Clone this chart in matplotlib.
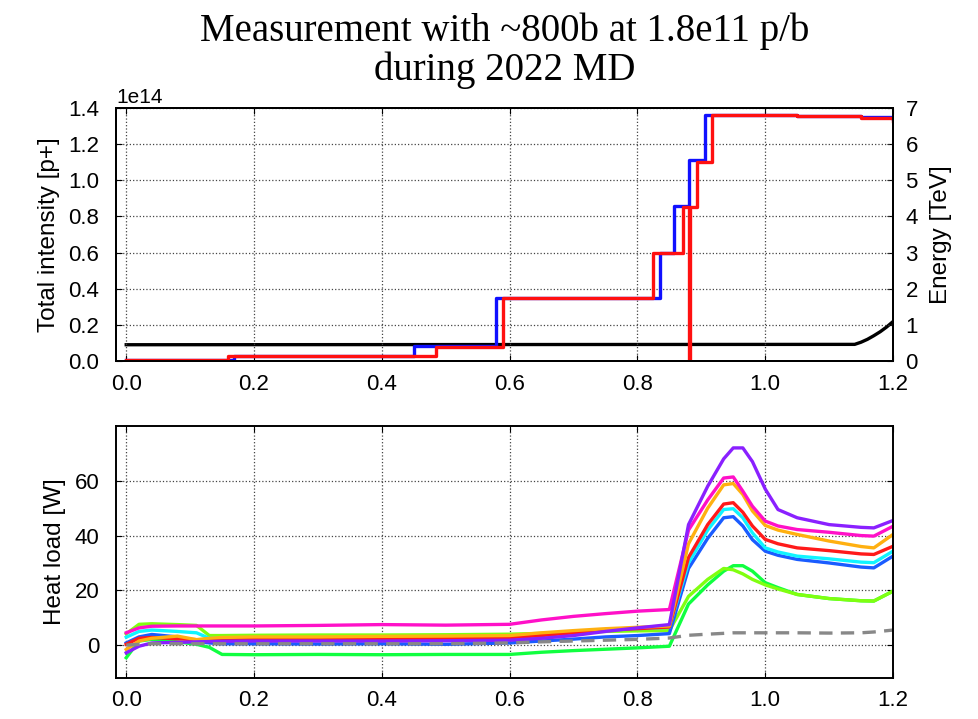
import matplotlib
matplotlib.use("Agg")
import matplotlib.pyplot as plt
import numpy as np

# ---------------- data ----------------
# Top panel: total intensity (steps) for the two beams, and energy
b1_t = [0.0, 0.168, 0.45, 0.579, 0.836, 0.858, 0.881, 0.906, 1.0, 1.05, 1.1, 1.15, 1.2]
b1_I = [0.003, 0.026, 0.083, 0.35, 0.60, 0.855, 1.11, 1.36, 1.36, 1.358, 1.355, 1.35, 1.34]
b2_t = [0.0, 0.160, 0.485, 0.590, 0.825, 0.872, 0.8805, 0.8825, 0.894, 0.917, 1.0, 1.05, 1.1, 1.15, 1.2]
b2_I = [0.003, 0.026, 0.080, 0.35, 0.60, 0.85, 0.0, 0.85, 1.10, 1.36, 1.36, 1.358, 1.355, 1.345, 1.33]
en_t = [0.0, 1.14, 1.15, 1.16, 1.17, 1.18, 1.19, 1.2]
en_E = [0.45, 0.46, 0.52, 0.60, 0.70, 0.81, 0.94, 1.09]

# Bottom panel: heat loads
hl_x = [0, 0.02, 0.04, 0.08, 0.11, 0.13, 0.15, 0.2, 0.3, 0.4, 0.5, 0.6, 0.65, 0.7, 0.75,
        0.8, 0.85, 0.88, 0.91, 0.935, 0.95, 0.965, 0.98, 1.0, 1.02, 1.05, 1.1, 1.15, 1.17, 1.2]
hl_green = [-4.6, 1.5, 2.1, 1.2, 0.3, -0.8, -3.4, -3.5, -3.4, -3.5, -3.4, -3.4, -2.6, -2.0, -1.5,
            -1.0, -0.4, 15, 22, 27, 29, 29, 27, 22.8, 21, 18.5, 17, 16.2, 16.1, 19.7]
hl_lime = [4.1, 7.6, 7.8, 7.5, 7.2, 3.5, 3.5, 3.6, 3.7, 3.7, 3.8, 4.0, 4.3, 4.6, 5.0,
           5.2, 5.3, 17.8, 24, 28, 27.5, 26, 24, 22, 20.5, 18.5, 17, 16.2, 16.1, 19.7]
hl_blue = [0.8, 3.0, 3.9, 3.0, 1.5, 0.8, 0.5, 0.5, 0.4, 0.5, 0.3, 0.8, 1.5, 2.2, 3.0,
           3.5, 4.2, 28, 39, 46.5, 46.9, 43.5, 38.5, 34.3, 32.8, 31.3, 30, 28.5, 28.2, 32.5]
hl_cyan = [2.9, 5.0, 5.5, 5.0, 4.5, 2.5, 2.5, 2.5, 2.7, 2.8, 3.0, 3.2, 4.0, 4.8, 5.5,
           6.0, 6.5, 30, 42, 49.5, 49.8, 46.5, 41, 35.5, 34, 32.5, 31.5, 30.3, 30.1, 34.3]
hl_red = [0.3, 2.5, 2.8, 2.3, 2.0, 2.0, 2.0, 2.0, 2.2, 2.3, 2.5, 2.7, 3.5, 4.5, 5.5,
          6.0, 6.6, 32, 44, 51.5, 52, 48.5, 43.5, 38.6, 37, 35.5, 34.5, 33.3, 33.1, 36.1]
hl_orange = [-1.6, 1.5, 2.5, 3.3, 2.0, 2.5, 2.8, 3.0, 3.0, 3.2, 3.3, 3.5, 4.5, 5.3, 6.0,
             6.5, 7.0, 37, 50, 58.5, 59, 55, 49, 43.7, 42, 40.4, 38, 36, 35.5, 40.4]
hl_magenta = [4.5, 6.3, 6.9, 7.0, 7.0, 7.0, 7.0, 7.0, 7.2, 7.5, 7.3, 7.6, 9.2, 10.5, 11.5,
              12.4, 13.0, 42, 53, 61, 61.4, 56.2, 50.7, 45.3, 43.5, 42.2, 41.2, 40, 39.8, 43.4]
hl_purple = [-2.8, -0.4, 0.8, 1.0, 1.2, 1.3, 1.4, 1.5, 1.5, 1.5, 1.6, 1.8, 2.5, 3.5, 5.0,
             6.3, 7.5, 44, 58, 68, 72, 72, 67, 57, 49.5, 46.5, 44, 43, 42.8, 45.5]
hl_impedance = [0.0, 0.3, 0.5, 0.5, 0.5, 0.5, 0.5, 0.5, 0.5, 0.5, 0.5, 0.8, 1.2, 1.5, 1.8,
                2.1, 2.6, 3.6, 4.0, 4.3, 4.5, 4.5, 4.5, 4.5, 4.5, 4.5, 4.4, 4.5, 4.8, 5.5]

title = "Measurement with ~800b at 1.8e11 p/b\nduring 2022 MD"

# ---------------- style ----------------
plt.rcParams['font.family'] = ['Liberation Sans', 'DejaVu Sans']
plt.rcParams['xtick.direction'] = 'in'
plt.rcParams['ytick.direction'] = 'in'
plt.rcParams['xtick.top'] = True
plt.rcParams['ytick.right'] = True
plt.rcParams['font.size'] = 16

fig = plt.figure(figsize=(9.79, 7.19), dpi=100)
L, W = 116 / 979, (893 - 116) / 979
ax1 = fig.add_axes([L, 1 - 361 / 719, W, (361 - 108) / 719])
ax3 = fig.add_axes([L, 1 - 678 / 719, W, (678 - 426) / 719])

grid_kw = dict(color='#444444', linestyle=':', linewidth=0.9)
lab_fs = 17.5

# top panel
ax2 = ax1.twinx()
ax1.set_zorder(ax2.get_zorder() + 1)
ax1.patch.set_visible(False)

scale = 1e14
ax1.step(b1_t, np.array(b1_I) * scale, where='post', color='#1010ff', lw=2.4)
ax1.step(b2_t, np.array(b2_I) * scale, where='post', color='#ff1010', lw=2.4)
ax2.plot(en_t, en_E, color='black', lw=2.4)

ax1.set_xlim(-0.016, 1.2)
ax1.set_ylim(0, 1.4e14)
ax1.set_yticks(np.arange(0, 1.41e14, 0.2e14))
ax2.set_ylim(0, 7)
ax2.set_yticks(range(0, 8))
ax1.set_xticks(np.arange(0, 1.21, 0.2))
ax1.set_ylabel("Total intensity [p+]", fontsize=lab_fs, labelpad=6)
ax2.set_ylabel("Energy [TeV]", fontsize=lab_fs, labelpad=9)
ax1.grid(True, **grid_kw)
ax1.tick_params(right=False)

# bottom panel
series = [
    (hl_green, '#10ff40'),
    (hl_lime, '#80ff10'),
    (hl_blue, '#1a5cff'),
    (hl_cyan, '#10f4ff'),
    (hl_red, '#ff1a1a'),
    (hl_orange, '#ffb010'),
    (hl_magenta, '#ff10c8'),
    (hl_purple, '#8a20ff'),
]
for ys, c in series:
    ax3.plot(hl_x, ys, color=c, lw=2.4)
ax3.plot(hl_x, hl_impedance, color='#888888', lw=2.4, ls=(0, (4, 2.5)))

ax3.set_xlim(-0.016, 1.2)
ax3.set_ylim(-12, 80)
ax3.set_yticks([0, 20, 40, 60])
ax3.set_xticks(np.arange(0, 1.21, 0.2))
ax3.set_ylabel("Heat load [W]", fontsize=lab_fs, labelpad=6)
ax3.grid(True, **grid_kw)

for a in (ax1, ax2, ax3):
    for s in a.spines.values():
        s.set_linewidth(1.4)
    a.tick_params(length=4)
for a in (ax1, ax3):
    a.tick_params(axis='y', pad=12)
    a.tick_params(axis='x', pad=9)
    a.xaxis.set_major_formatter(matplotlib.ticker.FormatStrFormatter('%.1f'))
ax2.tick_params(axis='y', pad=9)
ax1.yaxis.set_major_formatter(matplotlib.ticker.FuncFormatter(lambda v, p: f"{v/1e14:.1f}"))
ax1.text(0.0, 1.003, "1e14", transform=ax1.transAxes, fontsize=15, va='bottom', ha='left')

fig.text(504.5 / 979, 1 - 51 / 719, title, ha='center', va='center',
         family=['Liberation Serif', 'DejaVu Serif'], fontsize=28, linespacing=1.05)

fig.savefig("out.png", dpi=100)
